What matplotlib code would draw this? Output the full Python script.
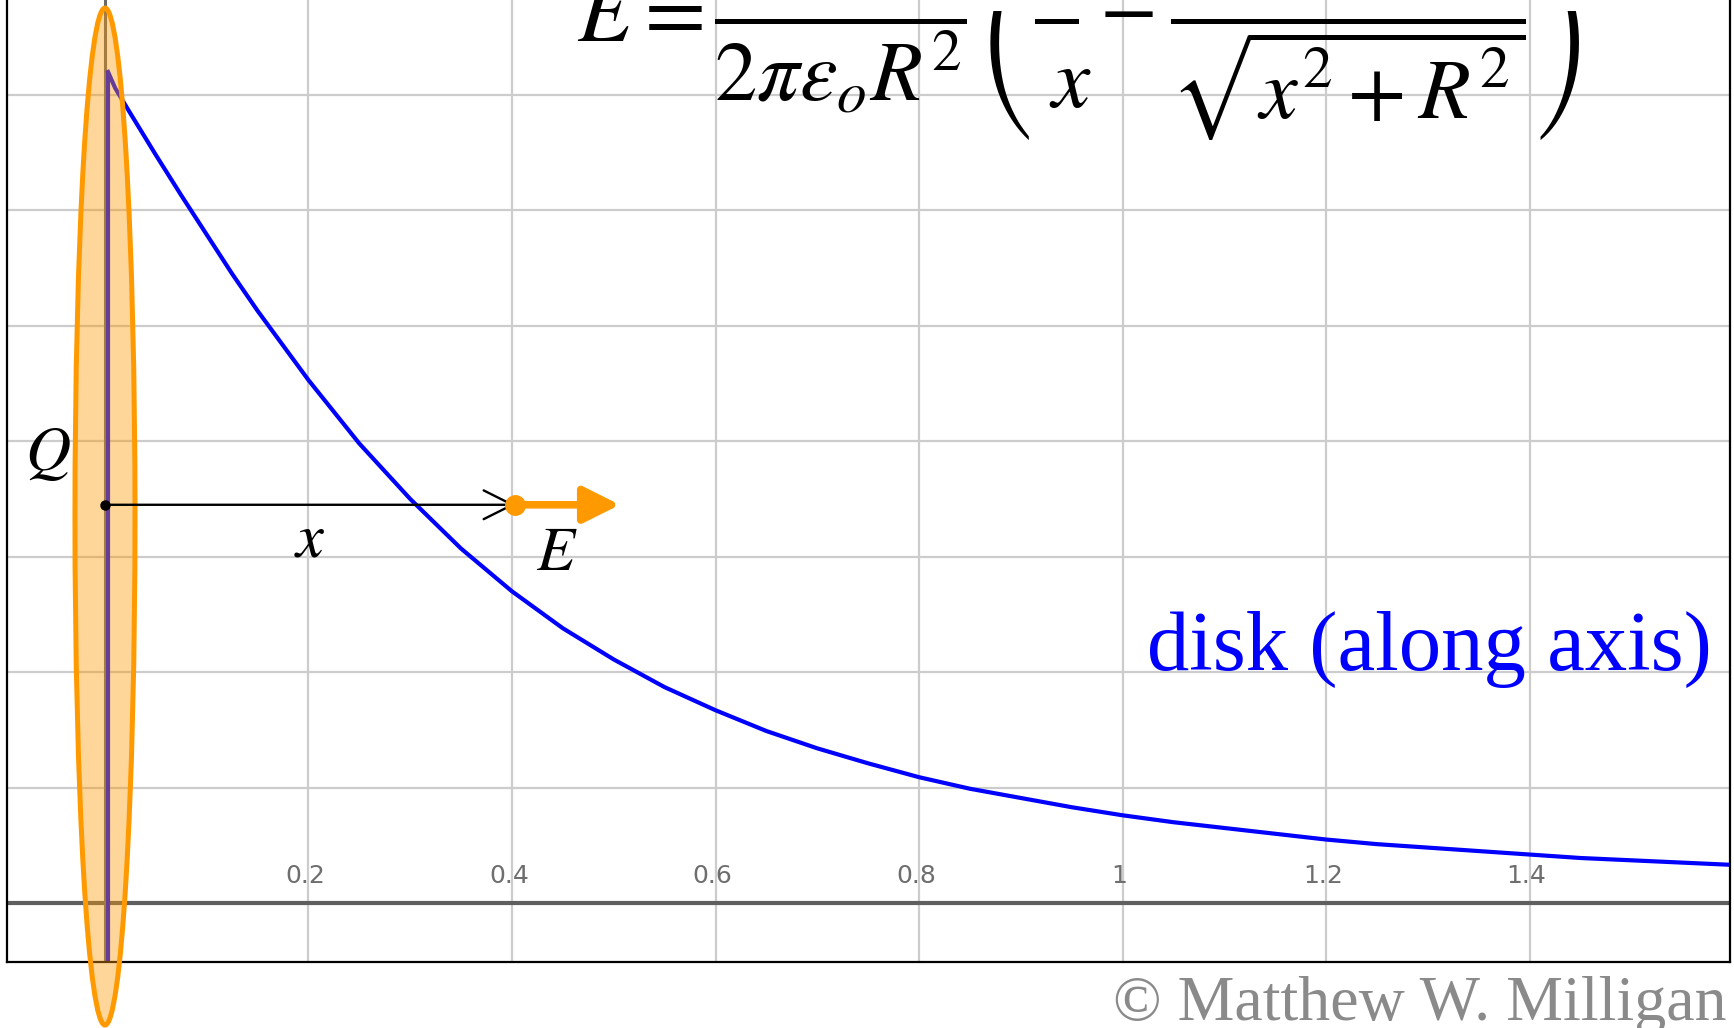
import matplotlib.pyplot as plt
from matplotlib.patches import Ellipse
from matplotlib.transforms import Bbox, TransformedBbox

plt.rcParams['mathtext.fontset'] = 'stix'

# field of a charged disk along its axis, in grid units
x_vals = [0.003, 0.01, 0.025, 0.05, 0.075, 0.1, 0.125, 0.15, 0.2, 0.25, 0.3, 0.35,
          0.4, 0.45, 0.5, 0.55, 0.6, 0.65, 0.7, 0.75, 0.8, 0.85, 0.9, 0.95, 1.0,
          1.05, 1.1, 1.15, 1.2, 1.25, 1.3, 1.35, 1.4, 1.45, 1.5, 1.55, 1.6]
e_vals = [7.2, 7.06, 6.84, 6.48, 6.13, 5.79, 5.45, 5.13, 4.53, 3.98, 3.50, 3.07,
          2.70, 2.38, 2.11, 1.87, 1.67, 1.49, 1.34, 1.21, 1.09, 0.99, 0.91, 0.83, 0.76,
          0.70, 0.65, 0.60, 0.55, 0.51, 0.48, 0.45, 0.42, 0.39, 0.37, 0.35, 0.33]

x_ticks = [0.2, 0.4, 0.6, 0.8, 1.0, 1.2, 1.4]
x_tick_labels = ['0.2', '0.4', '0.6', '0.8', '1', '1.2', '1.4']
y_grid = [1, 2, 3, 4, 5, 6, 7]

# point on the axis where the field is shown
p_x = 0.403
p_y = 3.45
e_arrow_len = 0.103

orange = '#FF9900'

fig = plt.figure(figsize=(17.34, 10.28), dpi=100)
ax = fig.add_axes([7 / 1734, 66 / 1028, 1723 / 1734, 962 / 1028])
ax.set_xlim(-0.0963, 1.597)
ax.set_ylim(-0.511, 7.823)
ax.set_xticks([])
ax.set_yticks([])
ax.spines['top'].set_visible(False)
for s in ['left', 'right', 'bottom']:
    ax.spines[s].set_linewidth(1.6)
    ax.spines[s].set_color('black')

for gx in x_ticks:
    ax.axvline(gx, color='#cccccc', lw=1.6, zorder=0.5)
for gy in y_grid:
    ax.axhline(gy, color='#cccccc', lw=1.6, zorder=0.5)
ax.axhline(0, color='#5f5f5f', lw=3.0, zorder=1)
ax.axvline(0, color='#6a6a6a', lw=2.2, zorder=1)

for gx, lab in zip(x_ticks, x_tick_labels):
    ax.text(gx - 0.003, 0.234, lab, ha='center', va='center', fontsize=18,
            color='#6e6e6e', family=['Liberation Sans Narrow', 'DejaVu Sans'], zorder=1)

# the curve, with its jump at the disk
ax.plot([x_vals[0], x_vals[0]], [ax.get_ylim()[0], e_vals[0]], color='blue', lw=3.0,
        zorder=2, solid_capstyle='butt')
ax.plot(x_vals, e_vals, color='blue', lw=3.0, zorder=2)

# the disk seen edge-on
disk = Ellipse((0, 3.348), width=0.059, height=8.81, facecolor=(1, 0.6, 0, 0.4),
               edgecolor=orange, lw=3.6, zorder=4, clip_on=False)
ax.add_patch(disk)

# x arrow from the disk centre to the point
ax.annotate('', xy=(p_x, p_y), xytext=(0, p_y),
            arrowprops=dict(arrowstyle='->,head_length=0.9,head_width=0.45', lw=1.7,
                            color='black', mutation_scale=23, shrinkA=0, shrinkB=0),
            zorder=5)
ax.plot(0, p_y, 'o', color='black', ms=6.5, zorder=6)

# field vector at the point
ax.annotate('', xy=(p_x + e_arrow_len, p_y), xytext=(p_x, p_y),
            arrowprops=dict(arrowstyle='-|>,head_length=1.0,head_width=0.5', lw=5.5,
                            color=orange, mutation_scale=22, shrinkA=0, shrinkB=0),
            zorder=5)
ax.plot(p_x, p_y, 'o', color=orange, ms=14, zorder=6)

ax.text(-0.056, 3.90, '$Q$', ha='center', va='center', fontsize=45, zorder=6)
ax.text(0.201, 3.15, '$x$', ha='center', va='center', fontsize=45, zorder=6)
ax.text(0.444, 3.03, '$E$', ha='center', va='center', fontsize=45, zorder=6)

fig.text(1712 / 1734, 1 - 670 / 1028, 'disk (along axis)', ha='right', va='baseline',
         fontsize=61, color='blue', family='Liberation Serif')

# formula runs off the top edge; the numerators stay hidden above the bars
fig.text(577 / 1734, 1 - 41 / 1028, r'$E=$', ha='left', va='baseline', fontsize=64)
formula = fig.text(714 / 1734, 1 - 35 / 1028,
                   r'$\dfrac{Qx}{2\pi\varepsilon_o R^2}\left(\dfrac{1}{\enspace\,}-\dfrac{1}{\sqrt{x^2+R^2}}\right)$',
                   ha='left', va='baseline', fontsize=61)
formula.set_clip_box(TransformedBbox(Bbox([[0, 0], [1, 1 - 11 / 1028]]), fig.transFigure))
# denominator of 1/x, set on the same baseline as the other denominators
fig.text(1070 / 1734, 1 - 107 / 1028, '$x$', ha='center', va='baseline', fontsize=62)

fig.text(1727 / 1734, 8 / 1028, '\u00a9 Matthew W. Milligan', ha='right', va='baseline',
         fontsize=46, color='#8a8a8a', family='Liberation Serif')

fig.savefig('out.png', dpi=100)
